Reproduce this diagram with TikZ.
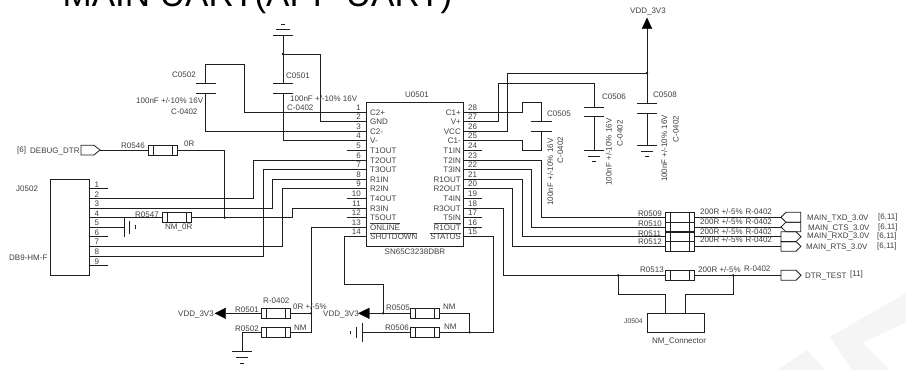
\documentclass[tikz,border=0pt]{standalone}
\usepackage{fontspec}
\setmainfont{Liberation Sans}
\usetikzlibrary{calc}
\definecolor{ink}{gray}{0.12}
\newcounter{lb}
\tikzset{
  x=1pt,y=-1pt,
  wire/.style={line width=0.8pt,draw=ink,line cap=rect,line join=miter},
  txt/.style={inner sep=0pt,text=ink!85,font=\fontsize{8}{9}\selectfont,anchor=base west,yshift=-2.9pt},
  rot/.style={inner sep=0pt,text=ink!85,font=\fontsize{8}{9}\selectfont,rotate=90,anchor=base},
  resbox/.style={draw=ink,line width=0.8pt,minimum width=29pt,minimum height=10pt,inner sep=0pt,
    path picture={\draw[ink,line width=0.8pt]
      ([xshift=5pt]path picture bounding box.north west) -- ([xshift=5pt]path picture bounding box.south west)
      ([xshift=-5pt]path picture bounding box.north east) -- ([xshift=-5pt]path picture bounding box.south east);}},
  chipbox/.style={draw=ink,line width=0.8pt,inner sep=0pt},
  dot/.style={circle,fill=ink,inner sep=0pt,minimum size=2.6pt},
  arrowfill/.style={fill=black,draw=black,line width=0.3pt,line join=miter},
}
\newcommand\lab[3]{\stepcounter{lb}\node[txt] (lb\thelb) at (#1,#2) {#3};}
\newcommand\labr[3]{\stepcounter{lb}\node[txt,anchor=base east] (lb\thelb) at (#1,#2) {#3};}
\newcommand\rlab[3]{\stepcounter{lb}\node[rot] (lb\thelb) at (#1,#2) {#3};}
\newcommand\ovl[1]{$\overline{\mbox{#1}}$}
\newcommand\pinL[3]{\coordinate (ul#1) at (347,#2);\coordinate (uli#1) at (366.7,#2);
  \draw[wire] (ul#1) -- (uli#1);
  \labr{361}{#2-4.5}{#1}\lab{370}{#2+0.5}{#3}}
\newcommand\pinR[3]{\coordinate (ur#1) at (482,#2);\coordinate (uri#1) at (463,#2);
  \draw[wire] (uri#1) -- (ur#1);
  \lab{468}{#2-4.5}{#1}\labr{461}{#2+0.5}{#3}}
\newcommand\pinJ[2]{\coordinate (j#1) at (108,#2);\coordinate (ji#1) at (89,#2);
  \draw[wire] (ji#1) -- (j#1);
  \lab{94.5}{#2-4.2}{#1}}
\begin{document}
\begin{tikzpicture}
\useasboundingbox (0,0) rectangle (906,370);
\clip (0,0) rectangle (906,370);
\fill[white] (0,0) rectangle (906,370);
% watermark
\fill[black!4] (830,337) -- (906,293) -- (906,322) -- (862,343) -- (890,370) -- (852,370) -- cycle;
\fill[black!4] (777,370) -- (807,350) -- (825,370) -- cycle;
% title
\node[inner sep=0pt,anchor=base west,text=black,font=\fontsize{35}{40}\selectfont] (title) at (62.5,6.5) {MAIN UART(APP UART)};
% chip
\node[chipbox,minimum width=96.3pt,minimum height=143.5pt] (u) at (414.85,174.25) {};
\lab{405}{95}{U0501}
\lab{384.5}{252}{SN65C3238DBR}
\pinL{1}{112}{C2+}\pinL{2}{121.5}{GND}\pinL{3}{131}{C2-}\pinL{4}{140.5}{V-}
\pinL{5}{150}{T1OUT}\pinL{6}{160}{T2OUT}\pinL{7}{169.5}{T3OUT}\pinL{8}{179}{R1IN}
\pinL{9}{188.5}{R2IN}\pinL{10}{198}{T4OUT}\pinL{11}{208}{R3IN}\pinL{12}{217.5}{T5OUT}
\pinL{13}{227}{\ovl{ONLINE}}\pinL{14}{236.5}{\ovl{SHUTDOWN}}
\pinR{28}{112}{C1+}\pinR{27}{121.5}{V+}\pinR{26}{131}{VCC}\pinR{25}{140.5}{C1-}
\pinR{24}{150}{T1IN}\pinR{23}{160}{T2IN}\pinR{22}{169.5}{T3IN}\pinR{21}{179}{R1OUT}
\pinR{20}{188.5}{R2OUT}\pinR{19}{198}{T4IN}\pinR{18}{208}{R3OUT}\pinR{17}{217.5}{T5IN}
\pinR{16}{227}{\ovl{R1OUT}}\pinR{15}{236.5}{\ovl{STATUS}}
% J0502
\node[chipbox,minimum width=39pt,minimum height=96.3pt] (jb) at (69.5,227.15) {};
\pinJ{1}{188.7}\pinJ{2}{198.3}\pinJ{3}{208}\pinJ{4}{217.7}\pinJ{5}{227}\pinJ{6}{236.7}\pinJ{7}{246}\pinJ{8}{256}\pinJ{9}{265.7}
\lab{16}{189}{J0502}
\lab{9}{258}{DB9-HM-F}
% resistors
\node[resbox] (r546) at (162.5,150) {};
\node[resbox] (r547) at (177.2,217.7) {};
\node[resbox] (r501) at (275.7,313.3) {};
\node[resbox] (r502) at (275.7,332.3) {};
\node[resbox] (r505) at (424.5,313.3) {};
\node[resbox] (r506) at (424.5,332.3) {};
\node[resbox] (r509) at (680.2,217.3) {};
\node[resbox] (r510) at (680.2,227) {};
\node[resbox] (r511) at (680.2,236.7) {};
\node[resbox] (r512) at (680.2,246) {};
\node[resbox] (r513) at (680.2,275.3) {};
% DEBUG port
\coordinate (dbgtip) at (100,150);
\draw[wire] (81,145.3) -- (94,145.3) -- (dbgtip) -- (94,155) -- (81,155) -- cycle;
\draw[wire] (dbgtip) -- (r546.west);
\coordinate (jn1) at (224.7,217.7);
\draw[wire] (r546.east) -| (jn1);
\lab{17}{150}{[6]}
\lab{30}{151}{DEBUG\_DTR}
\lab{121}{146}{R0546}
\lab{184}{144}{0R}
% J to chip
\draw[wire] (j2) -- (253.7,198.3) -- (253.7,160) -- (ul6);
\draw[wire] (j8) -- (263.3,256) -- (263.3,169.5) -- (ul7);
\draw[wire] (j3) -- (272.7,208) -- (272.7,179) -- (ul8);
\draw[wire] (j7) -- (282.7,246) -- (282.7,188.5) -- (ul9);
\draw[wire] (j4) -- (r547.west);
\draw[wire] (r547.east) -- (292,217.7) -- (292,208) -- (ul11);
\node[dot] at (jn1) {};
\lab{135}{214.5}{R0547}
\lab{165}{227}{NM\_0R}
% J5 gnd
\draw[wire] (j5) -- (124,227);
\draw[wire] (124,217.7) -- (124,236.7);
\draw[wire] (129.7,221.3) -- (129.7,233.3);
\draw[wire] (135,225) -- (135,229);
% C0502
\coordinate (c2t) at (205.7,83);\coordinate (c2b) at (205.7,93);
\draw[wire] (196,83) -- (216,83) (196,93) -- (216,93);
\draw[wire] (c2t) -- (205.7,64) -- (244,64) -- (244,112) -- (ul1);
\draw[wire] (c2b) -- (205.7,131) -- (ul3);
\lab{172}{75}{C0502}
\lab{136}{101}{100nF +/-10\% 16V}
\lab{171}{112}{C-0402}
% C0501 and top ground
\coordinate (g1) at (283,35);\coordinate (c1t) at (283,83);\coordinate (c1b) at (283,93);
\draw[wire] (273,35) -- (293,35) (276.5,29) -- (289.5,29) (281,24) -- (285,24);
\draw[wire] (g1) -- (c1t);
\draw[wire] (273,83) -- (293,83) (273,93) -- (293,93);
\draw[wire] (c1b) -- (283,140.5) -- (ul4);
\coordinate (jn2) at (283,54);
\draw[wire] (jn2) -- (320.7,54) -- (320.7,121.5) -- (ul2);
\node[dot] at (jn2) {};
\lab{286}{76}{C0501}
\lab{290}{99}{100nF +/-10\% 16V}
\lab{287}{108}{C-0402}
% C0505
\draw[wire] (ur28) -- (522,112) -- (522,102.5) -- (541.5,102.5) -- (541.5,121.5);
\draw[wire] (531.5,121.5) -- (551.5,121.5) (531.5,131) -- (551.5,131);
\draw[wire] (541.5,131) -- (541.5,150) -- (522,150) -- (522,140.5) -- (ur25);
\lab{547}{114}{C0505}
\rlab{553}{172}{100nF +/-10\% 16V}
\rlab{563}{150}{C-0402}
% C0506
\draw[wire] (ur27) -- (498,121.5) -- (498,83) -- (594,83) -- (594,107);
\draw[wire] (584,107) -- (604,107) (584,116.7) -- (604,116.7);
\draw[wire] (594,116.7) -- (594,150);
\draw[wire] (584,150) -- (604,150) (588,156) -- (600,156) (592,161) -- (596,161);
\lab{602}{97}{C0506}
\rlab{611.5}{152}{100nF +/-10\% 16V}
\rlab{622.5}{133.5}{C-0402}
% C0508 and rail
\coordinate (jn3) at (647,73);
\draw[wire] (ur26) -- (507.7,131) -- (507.7,73) -- (jn3);
\draw[arrowfill] (647,18) -- (652,28.7) -- (642,28.7) -- cycle;
\draw[wire] (647,28.7) -- (647,103.3);
\draw[wire] (637,103.3) -- (657,103.3) (637,113) -- (657,113);
\draw[wire] (647,113) -- (647,145.3);
\draw[wire] (637,145.3) -- (657,145.3) (641,151) -- (653,151) (645,156.5) -- (649,156.5);
\node[dot] at (jn3) {};
\lab{630}{11}{VDD\_3V3}
\lab{653}{95}{C0508}
\rlab{667}{148.5}{100nF +/-10\% 16V}
\rlab{678.5}{129}{C-0402}
% array wires
\draw[wire] (ur23) -- (541.3,160) -- (541.3,217.3) -- (r509.west);
\draw[wire] (ur22) -- (531.7,169.5) -- (531.7,227) -- (r510.west);
\draw[wire] (ur21) -- (522.3,179) -- (522.3,236.7) -- (r511.west);
\draw[wire] (ur20) -- (512.7,188.5) -- (512.7,246) -- (r512.west);
\foreach \r in {509,510,511,512,513}{\draw[wire] (r\r.east) -- (781,0 |- r\r.east);}
% ports right
\draw[wire] (781,217.3) -- (786,212.3) -- (800.7,212.3) -- (800.7,222.2) -- (786,222.2) -- cycle;
\draw[wire] (781,227) -- (786,222.2) -- (800.7,222.2) -- (800.7,231.8) -- (786,231.8) -- cycle;
\draw[wire] (781,231.8) -- (796,231.8) -- (801,236.7) -- (796,241.6) -- (781,241.6) -- cycle;
\draw[wire] (781,241.6) -- (796,241.6) -- (801,246.4) -- (796,251.2) -- (781,251.2) -- cycle;
\draw[wire] (781,270.3) -- (796,270.3) -- (801,275.3) -- (796,280.3) -- (781,280.3) -- cycle;
\lab{638}{214}{R0509}\lab{638}{223.5}{R0510}\lab{638}{233.5}{R0511}\lab{638}{241.5}{R0512}
\foreach \yy in {212,222,231.5,240}{\node[txt] at (700,\yy) {200R +/-5\%};\node[txt] at (745.5,\yy) {R-0402};}
\lab{807}{218}{MAIN\_TXD\_3.0V}\lab{878}{217}{[6,11]}
\lab{808}{228}{MAIN\_CTS\_3.0V}\lab{878}{227}{[6,11]}
\lab{807}{236}{MAIN\_RXD\_3.0V}\lab{877}{236}{[6,11]}
\lab{806}{247}{MAIN\_RTS\_3.0V}\lab{877}{246}{[6,11]}
% R0513 + J0504
\coordinate (jn4) at (618,275.3);
\coordinate (jn5) at (733,275.3);
\draw[wire] (ur18) -- (503,208) -- (503,275.3) -- (r513.west);
\node[chipbox,minimum width=57.3pt,minimum height=19.7pt] (con) at (675.65,322.85) {};
\draw[wire] (jn4) -- (618,294.3) -- (665.7,294.3) -- (665.7,313);
\draw[wire] (jn5) -- (733,294.3) -- (685,294.3) -- (685,313);
\node[dot] at (jn4) {};\node[dot] at (jn5) {};
\lab{640}{270}{R0513}
\lab{698}{270}{200R +/-5\%}
\lab{744}{269}{R-0402}
\lab{805}{275.5}{DTR\_TEST}
\lab{850}{274}{[11]}
\stepcounter{lb}\node[txt,font=\fontsize{6.8}{8}\selectfont] (lb\thelb) at (624,321) {J0504};
\lab{652}{341}{NM\_Connector}
% bottom left
\coordinate (jn6) at (311,313.3);
\draw[arrowfill] (215,313.3) -- (225.7,308) -- (225.7,318.6) -- cycle;
\draw[wire] (225.7,313.3) -- (r501.west);
\draw[wire] (r501.east) -- (jn6);
\draw[wire] (ul13) -- (311,227) -- (311,332.3) -- (r502.east);
\draw[wire] (r502.west) -- (242,332.3) -- (242,351.7);
\draw[wire] (232,351.7) -- (252,351.7) (236,357.3) -- (248,357.3) (240,363) -- (244,363);
\node[dot] at (jn6) {};
\lab{178}{314}{VDD\_3V3}
\lab{235}{310}{R0501}
\lab{263}{301}{R-0402}
\lab{293}{307}{0R +/-5\%}
\lab{235}{329}{R0502}
\lab{294}{328}{NM}
% bottom mid
\coordinate (jn7) at (383,313.3);
\coordinate (jn8) at (469.7,332.3);
\draw[arrowfill] (358.5,313.3) -- (369.3,308) -- (369.3,318.6) -- cycle;
\draw[wire] (369.3,313.3) -- (r505.west);
\draw[wire] (ul14) -- (344.7,236.5) -- (344.7,284.7) -- (383,284.7) -- (jn7);
\draw[wire] (r505.east) -- (469.7,313.3) -- (jn8);
\draw[wire] (362,332.3) -- (r506.west);
\draw[wire] (362,323) -- (362,342);
\draw[wire] (356.3,327) -- (356.3,338);
\draw[wire] (350.7,331) -- (350.7,334);
\draw[wire] (r506.east) -- (493.3,332.3) -- (493.3,236.5) -- (ur15);
\node[dot] at (jn7) {};\node[dot] at (jn8) {};
\lab{323}{314}{VDD\_3V3}
\lab{386}{308}{R0505}
\lab{443}{307}{NM}
\lab{385}{328}{R0506}
\lab{444}{327}{NM}
\end{tikzpicture}
\end{document}
